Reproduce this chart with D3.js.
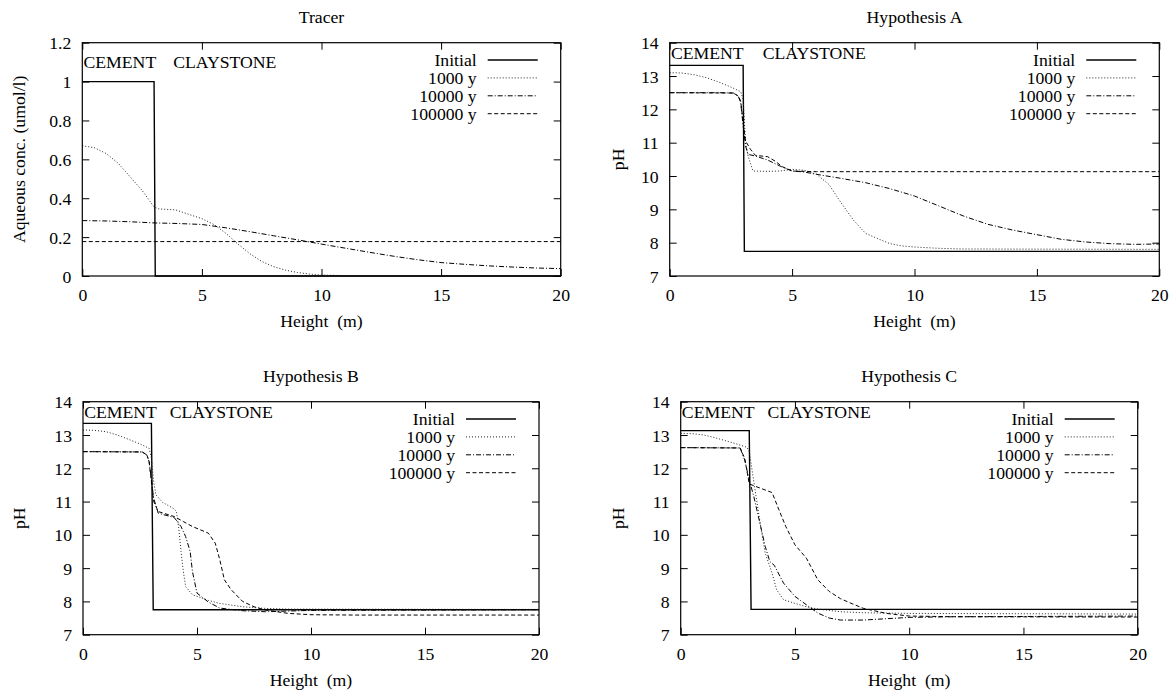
<!DOCTYPE html>
<html><head><meta charset="utf-8">
<script src="https://cdn.jsdelivr.net/npm/d3@7"></script>
<style>
html,body{margin:0;padding:0;background:#fff;}
</style></head>
<body>
<svg id="chart" width="1173" height="694"></svg>
<script>
// ---------- data ----------
const seriesNames = ["Initial", "1000 y", "10000 y", "100000 y"];
const panelTitles = ["Tracer", "Hypothesis A", "Hypothesis B", "Hypothesis C"];
const yLabels = ["Aqueous conc. (umol/l)", "pH", "pH", "pH"];
const xLabel = "Height  (m)";
const xTicks = [0, 5, 10, 15, 20];
const tracerTicks = [0, 0.2, 0.4, 0.6, 0.8, 1, 1.2];
const phTicks = [7, 8, 9, 10, 11, 12, 13, 14];
const zoneLabels = ["CEMENT", "CLAYSTONE"];
const zoneLabelX = [0.05, 3.8];

const tracerInitial = [[0,1],[3,1],[3.05,0],[20,0]];
const tracer1000 = [[0,0.67],[0.5,0.66],[1,0.63],[1.5,0.58],[2,0.51],[2.5,0.44],[3,0.355],[3.2,0.345],[3.9,0.34],[4.5,0.315],[5,0.295],[5.5,0.265],[6,0.22],[6.5,0.165],[7,0.115],[7.5,0.075],[8,0.048],[8.5,0.03],[9,0.018],[9.5,0.01],[10,0.005],[11,0.002],[12,0],[20,0]];
const tracer10000 = [[0,0.285],[1,0.283],[2,0.279],[3,0.273],[4,0.27],[5,0.265],[6,0.248],[7,0.228],[8,0.207],[9,0.186],[10,0.164],[11,0.143],[12,0.122],[13,0.102],[14,0.084],[15,0.069],[16,0.06],[17,0.052],[18,0.046],[19,0.041],[20,0.038]];
const tracer100000 = [[0,0.177],[20,0.177]];

const aInitial = [[0,13.32],[3,13.32],[3.05,7.74],[20,7.74]];
const a1000 = [[0,13.1],[0.5,13.09],[1,13.04],[1.5,12.95],[2,12.82],[2.5,12.67],[2.9,12.53],[3.0,12.3],[3.1,11.0],[3.2,10.6],[3.4,10.15],[4,10.14],[4.5,10.15],[5,10.2],[5.5,10.17],[6,10.05],[6.5,9.75],[7,9.2],[7.5,8.68],[8,8.28],[8.5,8.12],[9,7.97],[9.5,7.9],[10,7.87],[11,7.83],[12,7.81],[20,7.8]];
const a10000 = [[0,12.5],[1,12.5],[2,12.5],[2.6,12.49],[2.8,12.4],[2.9,12.2],[3.0,11.5],[3.1,10.9],[3.2,10.65],[3.5,10.6],[4,10.48],[4.5,10.3],[5,10.15],[5.5,10.12],[6,10.05],[7,9.93],[8,9.8],[9,9.62],[10,9.4],[11,9.1],[12,8.8],[13,8.55],[14,8.38],[15,8.24],[16,8.1],[17,8.02],[18,7.97],[19,7.95],[20,7.96]];
const a100000 = [[0,12.5],[2.6,12.49],[2.8,12.4],[2.9,12.25],[3.0,11.6],[3.1,11.05],[3.3,10.8],[3.5,10.62],[4,10.58],[4.3,10.45],[4.6,10.28],[5,10.15],[6,10.13],[20,10.13]];

const bInitial = [[0,13.35],[3,13.35],[3.08,7.75],[20,7.75]];
const b1000 = [[0,13.15],[0.5,13.14],[1,13.1],[1.5,13.0],[2,12.87],[2.5,12.73],[2.9,12.6],[3.0,12.3],[3.1,11.6],[3.2,11.2],[3.5,10.97],[4.0,10.78],[4.1,10.7],[4.2,10.2],[4.3,9.5],[4.4,8.9],[4.5,8.45],[4.8,8.2],[5.5,8.03],[6,7.94],[7,7.84],[8,7.79],[9,7.77],[20,7.76]];
const b10000 = [[0,12.5],[2.6,12.49],[2.8,12.4],[2.9,12.2],[3.0,11.65],[3.1,11.1],[3.3,10.65],[4,10.52],[4.3,10.25],[4.5,9.95],[4.7,9.5],[4.8,8.9],[5.0,8.25],[5.5,7.98],[6,7.8],[7,7.72],[8,7.69],[9,7.71],[10,7.73],[20,7.75]];
const b100000 = [[0,12.5],[2.6,12.49],[2.8,12.4],[2.9,12.2],[3.0,11.6],[3.1,11.0],[3.3,10.7],[4,10.55],[4.4,10.4],[4.8,10.25],[5.5,10.05],[5.8,9.75],[6.0,9.25],[6.2,8.65],[6.5,8.35],[7,8.0],[7.5,7.84],[8,7.74],[9,7.64],[10,7.6],[12,7.59],[20,7.59]];

const cInitial = [[0,13.13],[3,13.13],[3.08,7.76],[20,7.76]];
const c1000 = [[0,13.05],[0.5,13.04],[1,13.0],[1.5,12.92],[2,12.82],[2.5,12.72],[2.9,12.63],[3.0,12.5],[3.1,12.05],[3.3,11.15],[3.5,10.25],[3.7,9.45],[4.0,8.85],[4.2,8.35],[4.5,8.05],[5,7.94],[5.5,7.84],[6,7.77],[7,7.69],[8,7.66],[10,7.64],[20,7.62]];
const c10000 = [[0,12.62],[2.6,12.61],[2.8,12.25],[3.0,11.65],[3.2,11.15],[3.5,10.25],[3.7,9.65],[3.9,9.2],[4.1,9.08],[4.5,8.55],[5,8.15],[5.5,7.9],[6,7.65],[6.5,7.5],[7,7.44],[8,7.44],[9,7.48],[10,7.52],[12,7.54],[20,7.56]];
const c100000 = [[0,12.62],[2.6,12.61],[2.8,12.3],[3.0,11.53],[3.3,11.45],[4.0,11.27],[4.3,10.75],[4.6,10.25],[5.0,9.7],[5.5,9.3],[6,8.65],[6.5,8.3],[7,8.08],[7.5,7.93],[8,7.79],[9,7.64],[10,7.56],[12,7.54],[20,7.53]];

// ---------- layout / style ----------
const FONT = "'Liberation Serif', 'Times New Roman', Tinos, 'DejaVu Serif', serif";
const FS = 17.7;
const panels = [
  {title: panelTitles[0], ylabel: yLabels[0], left: 82.3, right: 560.7, top: 42.7, bottom: 276, yDomain: [0,1.2], yTicks: tracerTicks, ylabX: 18.5, series: [tracerInitial, tracer1000, tracer10000, tracer100000], zoneY: 1.1},
  {title: panelTitles[1], ylabel: yLabels[1], left: 669.7, right: 1159.3, top: 42.7, bottom: 276, yDomain: [7,14], yTicks: phTicks, ylabX: 618, series: [aInitial, a1000, a10000, a100000], zoneY: 13.69},
  {title: panelTitles[2], ylabel: yLabels[2], left: 83, right: 539, top: 401.7, bottom: 634.7, yDomain: [7,14], yTicks: phTicks, ylabX: 18.5, series: [bInitial, b1000, b10000, b100000], zoneY: 13.68},
  {title: panelTitles[3], ylabel: yLabels[3], left: 680.7, right: 1137.7, top: 401.7, bottom: 634.7, yDomain: [7,14], yTicks: phTicks, ylabX: 618, series: [cInitial, c1000, c10000, c100000], zoneY: 13.68}
];
const styles = [
  {dash: null, width: 1.4, color: "#000"},
  {dash: "1,2", width: 1, color: "#222"},
  {dash: "5,2,1,2", width: 1, color: "#000"},
  {dash: "4,2.5", width: 1, color: "#000"}
];

const svg = d3.select("#chart");
svg.append("rect").attr("width",1173).attr("height",694).attr("fill","#fff");

function txt(sel) {
  return sel.attr("font-family", FONT).attr("font-size", FS).attr("fill", "#000")
    .style("font-family", FONT).style("white-space", "pre");
}

panels.forEach(p => {
  const x = d3.scaleLinear().domain([0,20]).range([p.left, p.right]);
  const y = d3.scaleLinear().domain(p.yDomain).range([p.bottom, p.top]);
  const g = svg.append("g");
  const tl = 7;

  const axB = d3.axisBottom(x).tickValues(xTicks).tickSize(-tl).tickPadding(14).tickFormat(d => String(d));
  const axT = d3.axisTop(x).tickValues(xTicks).tickSize(-tl).tickFormat("");
  const axL = d3.axisLeft(y).tickValues(p.yTicks).tickSize(-tl).tickPadding(11).tickFormat(d => String(d));
  const axR = d3.axisRight(y).tickValues(p.yTicks).tickSize(-tl).tickFormat("");
  const gB = g.append("g").attr("transform",`translate(0,${p.bottom})`).call(axB);
  const gT = g.append("g").attr("transform",`translate(0,${p.top})`).call(axT);
  const gL = g.append("g").attr("transform",`translate(${p.left},0)`).call(axL);
  const gR = g.append("g").attr("transform",`translate(${p.right},0)`).call(axR);
  [gB,gT,gL,gR].forEach(a => {
    a.attr("font-family", FONT).attr("font-size", FS);
    a.select(".domain").remove();
    a.selectAll(".tick line").attr("stroke","#000").attr("stroke-width",1);
    txt(a.selectAll("text"));
  });
  gB.selectAll(".tick text").attr("dy","0").attr("y",25);
  gL.selectAll(".tick text").attr("dy","0.34em");

  const line = d3.line().x(d => x(d[0])).y(d => y(d[1]));
  p.series.forEach((s, i) => {
    const st = styles[i];
    g.append("path").datum(s).attr("d", line).attr("fill","none")
      .attr("stroke", st.color).attr("stroke-width", st.width)
      .attr("stroke-dasharray", st.dash);
  });

  g.append("rect").attr("x",p.left).attr("y",p.top)
    .attr("width",p.right-p.left).attr("height",p.bottom-p.top)
    .attr("fill","none").attr("stroke","#000").attr("stroke-width",1.2);

  zoneLabels.forEach((t, i) => {
    txt(g.append("text")).attr("x", x(zoneLabelX[i])).attr("y", y(p.zoneY))
      .attr("dy","0.34em").attr("text-anchor","start").text(t);
  });

  seriesNames.forEach((n, i) => {
    const ly = p.top + 17.3 + i * 17.9;
    txt(g.append("text")).attr("x", p.right - 84).attr("y", ly).attr("dy","0.34em")
      .attr("text-anchor","end").text(n);
    const st = styles[i];
    g.append("line").attr("x1", p.right - 73).attr("x2", p.right - 23)
      .attr("y1", ly).attr("y2", ly).attr("stroke", st.color)
      .attr("stroke-width", st.width).attr("stroke-dasharray", st.dash);
  });

  txt(g.append("text")).attr("x",(p.left+p.right)/2).attr("y",p.top-20)
    .attr("text-anchor","middle").text(p.title);
  txt(g.append("text")).attr("x",(p.left+p.right)/2).attr("y",p.bottom+51)
    .attr("text-anchor","middle").text(xLabel);
  txt(g.append("text")).attr("transform",`translate(${p.ylabX},${(p.top+p.bottom)/2}) rotate(-90)`)
    .attr("dy","0.34em").attr("text-anchor","middle").text(p.ylabel);
});
</script>
</body></html>
